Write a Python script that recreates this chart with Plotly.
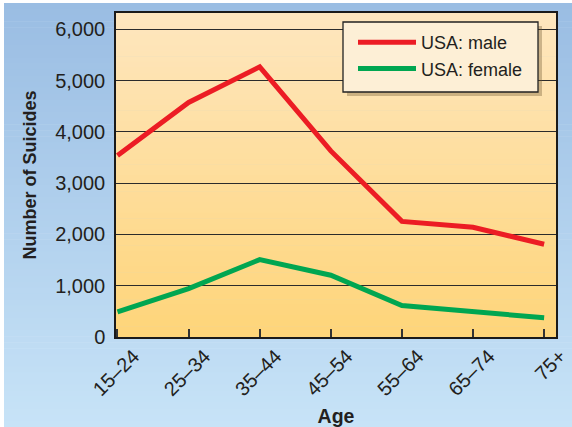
import plotly.graph_objects as go

# ---- data ----
ages = ["15–24", "25–34", "35–44", "45–54", "55–64", "65–74", "75+"]
male = [3540, 4575, 5270, 3630, 2255, 2140, 1810]
female = [490, 945, 1510, 1205, 615, 490, 375]
y_ticks = [0, 1000, 2000, 3000, 4000, 5000, 6000]

W, H = 572, 427
L, R, T, B = 116, 16, 13, 90
PW, PH = W - L - R, H - T - B


def px_x(X):
    return (X - L) / PW


def px_y(Y):
    return (H - B - Y) / PH


def lerp(c1, c2, t):
    return "rgb(%d,%d,%d)" % tuple(round(a + (b - a) * t) for a, b in zip(c1, c2))


shapes = []
# outer gradient background
outer_top, outer_bot = (154, 189, 227), (199, 227, 247)
N = 70
y_top_px, y_bot_px = 3, H
for i in range(N):
    Y0 = y_top_px + (y_bot_px - y_top_px) * i / N
    Y1 = y_top_px + (y_bot_px - y_top_px) * (i + 1) / N + 0.6
    shapes.append(dict(type="rect", xref="paper", yref="paper", layer="below",
                       x0=px_x(4), x1=px_x(W + 2), y0=px_y(Y1), y1=px_y(Y0),
                       line=dict(width=0), fillcolor=lerp(outer_top, outer_bot, i / (N - 1))))
# plot-area gradient
in_top, in_bot = (254, 230, 190), (254, 213, 122)
M = 60
for i in range(M):
    y1 = 1 - i / M
    y0 = 1 - (i + 1) / M - 0.002
    shapes.append(dict(type="rect", xref="paper", yref="paper", layer="below",
                       x0=0, x1=1, y0=max(y0, 0), y1=y1,
                       line=dict(width=0), fillcolor=lerp(in_top, in_bot, i / (M - 1))))
# legend shadow and box
shapes.append(dict(type="rect", xref="paper", yref="paper", layer="above",
                   x0=px_x(347), x1=px_x(542), y0=px_y(96), y1=px_y(26),
                   line=dict(width=0), fillcolor="rgba(110,85,50,0.35)"))
shapes.append(dict(type="rect", xref="paper", yref="paper", layer="above",
                   x0=px_x(343), x1=px_x(538), y0=px_y(92), y1=px_y(22),
                   line=dict(width=1.3, color="#222222"), fillcolor="#fdefd6"))

fig = go.Figure()
fig.add_trace(go.Scatter(x=ages, y=male, mode="lines", name="USA: male",
                         line=dict(color="#ec1c24", width=5)))
fig.add_trace(go.Scatter(x=ages, y=female, mode="lines", name="USA: female",
                         line=dict(color="#00a651", width=5)))

font_family = "Arial, Liberation Sans, Helvetica, sans-serif"

fig.update_layout(
    width=W, height=H,
    margin=dict(l=L, r=R, t=T, b=B, pad=0),
    paper_bgcolor="white",
    plot_bgcolor="rgba(0,0,0,0)",
    shapes=shapes,
    font=dict(family=font_family, color="#231f20"),
    showlegend=True,
    legend=dict(x=px_x(353), y=px_y(24), xanchor="left", yanchor="top",
                bgcolor="rgba(0,0,0,0)", borderwidth=0,
                font=dict(size=18, color="#231f20"),
                itemwidth=58, tracegroupgap=0),
    xaxis=dict(
        type="category", range=[-0.021, 6.167],
        showgrid=False, zeroline=False,
        showline=True, mirror=True, linecolor="#1a1a1a", linewidth=1.5,
        ticks="inside", ticklen=8, tickwidth=1.5, tickcolor="#333333",
        tickangle=-45, tickfont=dict(size=20, color="#231f20"),
        ticklabelshift=16, ticklabelstandoff=-2,
        title=dict(text="<b>Age</b>", font=dict(size=19.5, color="#231f20"), standoff=11),
        automargin=False,
    ),
    yaxis=dict(
        range=[0, 6320], tickvals=y_ticks, tickformat=",d",
        showgrid=True, gridcolor="#2b2b2b", gridwidth=1.2, zeroline=False,
        showline=True, mirror=True, linecolor="#1a1a1a", linewidth=1.5,
        ticks="", ticklabelstandoff=5,
        tickfont=dict(size=20, color="#231f20"),
        title=dict(text="<b>Number of Suicides</b>", font=dict(size=18, color="#231f20"), standoff=14),
        automargin=False,
    ),
)

fig.write_html("out.html", config={"displayModeBar": False},
               post_script="document.body.style.margin='0px';")
